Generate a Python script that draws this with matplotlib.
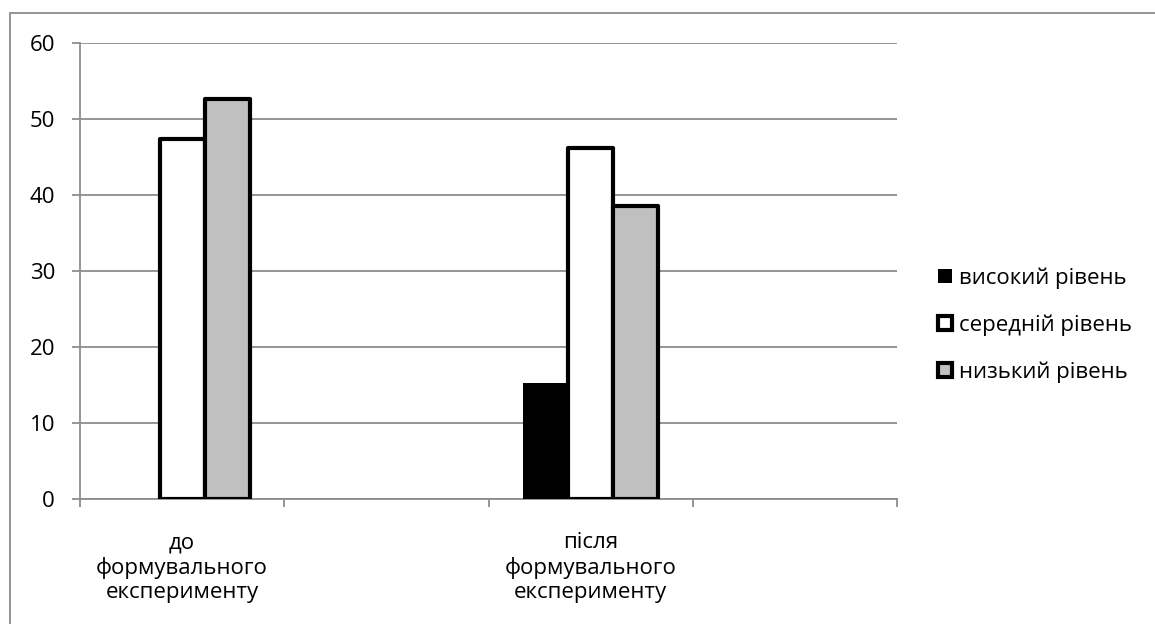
import numpy as np
import matplotlib.pyplot as plt
from matplotlib.patches import Rectangle, Patch

plt.rcParams['font.family'] = ['Open Sans', 'DejaVu Sans']

categories = ['до\nформувального\nексперименту', '', 'після\nформувального\nексперименту', '']
high = [0, np.nan, 15.3, np.nan]
middle = [47.4, np.nan, 46.2, np.nan]
low = [52.6, np.nan, 38.5, np.nan]
series_names = ['високий рівень', 'середній рівень', 'низький рівень']
y_ticks = [0, 10, 20, 30, 40, 50, 60]

W, H = 1155, 624
fs = 16
fig = plt.figure(figsize=(W / 100, H / 100), dpi=100)
ax = fig.add_axes([80 / W, (H - 499) / H, (897 - 80) / W, (499 - 43) / H])

# outer chart frame
fig.patches.append(Rectangle((10 / W, -0.1), 1.2, (H - 13) / H + 0.1, transform=fig.transFigure,
                             fill=False, edgecolor='#8c8c8c', linewidth=1.3))

x = np.arange(len(categories))
bw = 45 / 204
ax.bar(x - bw, high, bw, color='black', linewidth=0, zorder=3)
ax.bar(x, middle, bw, color='white', edgecolor='black', linewidth=3, joinstyle='round', zorder=3)
ax.bar(x + bw, low, bw, color='#c0c0c0', edgecolor='black', linewidth=3, joinstyle='round', zorder=3)

ax.set_xlim(-0.5, len(categories) - 0.5)
ax.set_ylim(0, 60)
ax.set_yticks(y_ticks)
ax.set_xticks(np.arange(len(categories) + 1) - 0.5)
ax.set_xticklabels([])
ax.set_xticks(x, minor=True)
ax.set_xticklabels(categories, minor=True, fontsize=fs, linespacing=1.2)
ax.tick_params(axis='x', which='minor', length=0, pad=24)
ax.tick_params(axis='x', which='major', length=6, color='#8c8c8c', width=1.3)
ax.tick_params(axis='y', length=6, color='#8c8c8c', width=1.3, labelsize=fs, pad=12)
ax.yaxis.grid(True, color='#8c8c8c', linewidth=1.3, zorder=0)
ax.set_axisbelow(True)

for side in ['top', 'right']:
    ax.spines[side].set_visible(False)
for side in ['left', 'bottom']:
    ax.spines[side].set_color('#8c8c8c')
    ax.spines[side].set_linewidth(1.3)

handles = [Patch(facecolor='black', edgecolor='black', linewidth=0),
           Patch(facecolor='white', edgecolor='black', linewidth=3),
           Patch(facecolor='#c0c0c0', edgecolor='black', linewidth=3)]
fig.legend(handles, series_names, loc='center left', bbox_to_anchor=(938 / W, (H - 325) / H),
           frameon=False, fontsize=fs, handlelength=0.63, handleheight=0.63,
           handletextpad=0.3, labelspacing=1.15, borderpad=0, borderaxespad=0)

fig.savefig('out.png', dpi=100)
